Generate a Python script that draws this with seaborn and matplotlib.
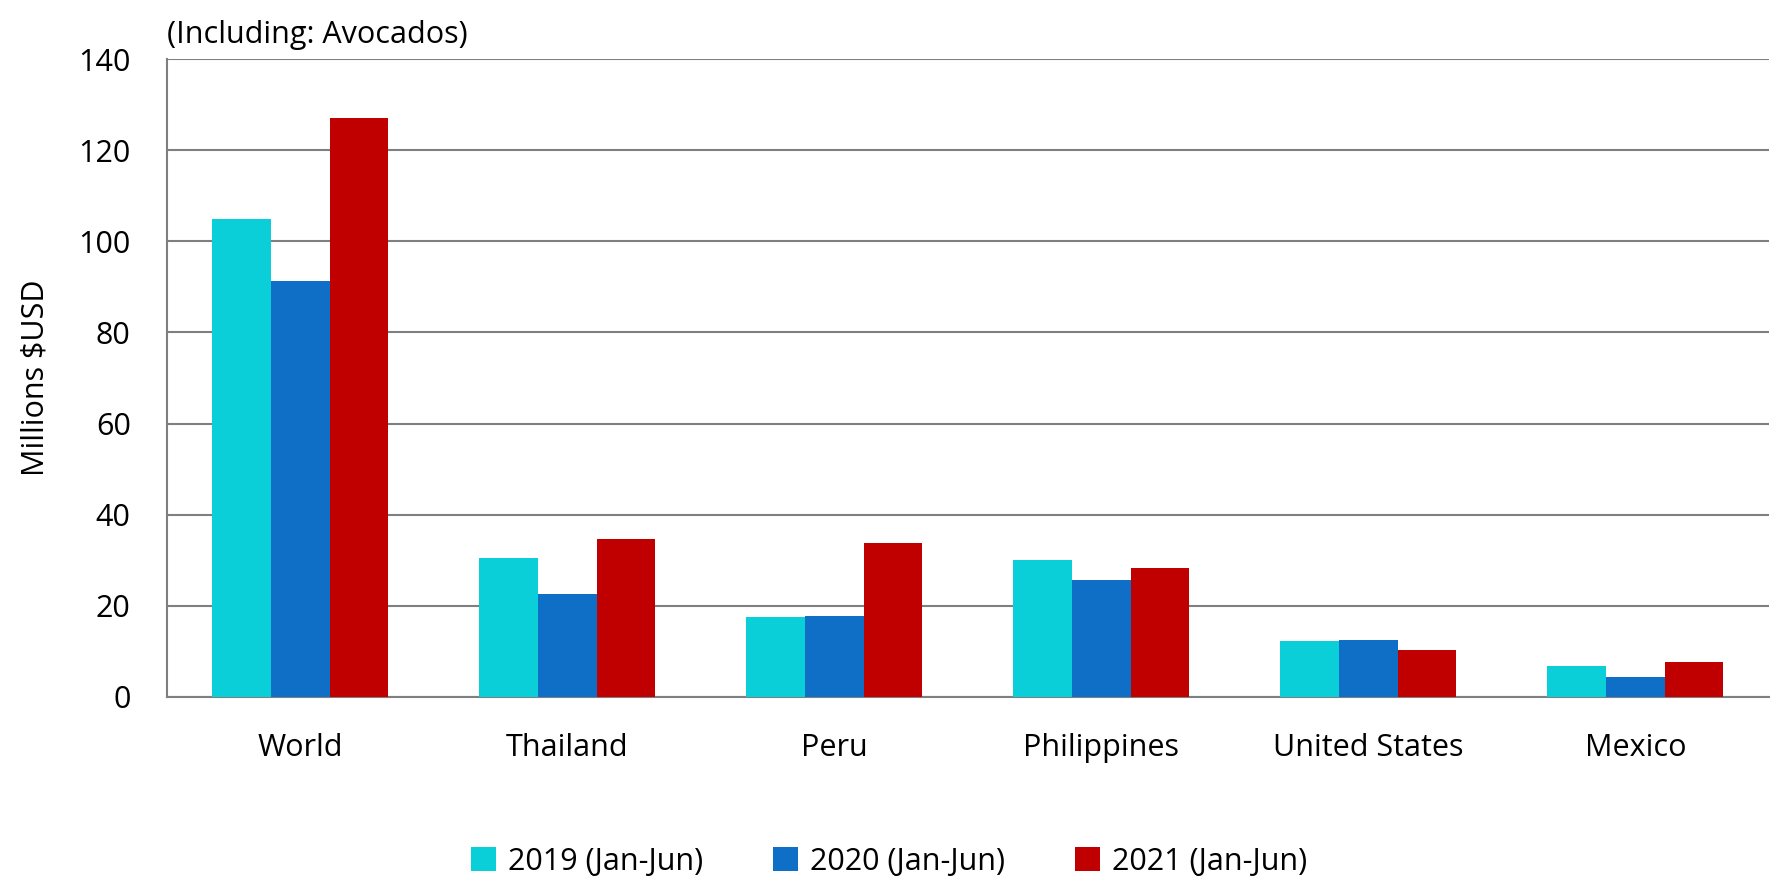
import matplotlib
matplotlib.use("Agg")
import matplotlib.pyplot as plt
import pandas as pd
import seaborn as sns

# values (millions USD)
countries = ["World", "Thailand", "Peru", "Philippines", "United States", "Mexico"]
periods = ["2019 (Jan-Jun)", "2020 (Jan-Jun)", "2021 (Jan-Jun)"]
v2019 = [105.0, 30.4, 17.5, 30.0, 12.2, 6.9]
v2020 = [91.3, 22.6, 17.7, 25.6, 12.6, 4.4]
v2021 = [127.1, 34.6, 33.8, 28.2, 10.4, 7.7]
colors = ["#0BCFD8", "#0F6FC6", "#C00000"]

df = pd.DataFrame({"country": countries * 3,
                   "period": [p for p in periods for _ in countries],
                   "value": v2019 + v2020 + v2021})

sns.set_style("white", {"text.color": "black", "axes.labelcolor": "black",
                        "xtick.color": "black", "ytick.color": "black"})
plt.rcParams["font.family"] = ["Open Sans", "DejaVu Sans"]

fig = plt.figure(figsize=(17.78, 8.82), dpi=100)
ax = fig.add_axes([0.0938, 0.2098, 0.901, 0.7232])
sns.barplot(data=df, x="country", y="value", hue="period", palette=colors,
            width=0.66, saturation=1, linewidth=0, ax=ax, zorder=3)

ax.set_xlim(-0.5, 5.5)
ax.set_ylim(0, 140)
ax.set_yticks(range(0, 141, 20))
ax.yaxis.grid(True, color="#7f7f7f", linewidth=1.5, zorder=0)
ax.set_axisbelow(True)
for s in ["top", "right"]:
    ax.spines[s].set_visible(False)
for s in ["left", "bottom"]:
    ax.spines[s].set_color("#7f7f7f")
    ax.spines[s].set_linewidth(1.5)
ax.tick_params(axis="y", labelsize=22, length=0, pad=26)
ax.tick_params(axis="x", labelsize=22, length=0, pad=26)
ax.set_xlabel("")
ax.set_ylabel("Millions $USD", fontsize=22, labelpad=20)
ax.text(0, 1.015, "(Including: Avocados)", transform=ax.transAxes, fontsize=22,
        ha="left", va="bottom")

handles, labels = ax.get_legend_handles_labels()
ax.legend(handles, labels, loc="lower center", bbox_to_anchor=(0.5, -0.025),
          bbox_transform=fig.transFigure, ncol=3, frameon=False, fontsize=22,
          handlelength=0.8, handleheight=0.8, handletextpad=0.4, columnspacing=2.3)

fig.savefig("out.png", dpi=100)
